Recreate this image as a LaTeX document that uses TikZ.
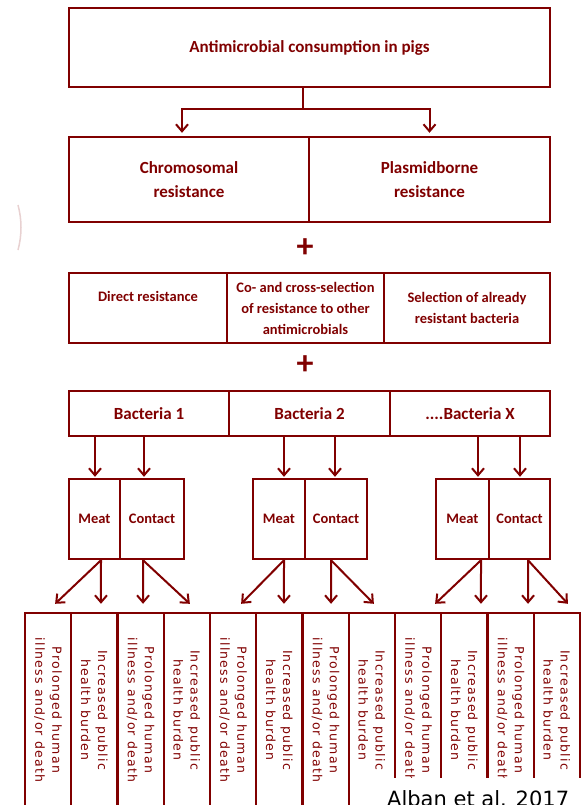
\documentclass[tikz,border=0pt]{standalone}
\usepackage{fontspec}
\setmainfont{Carlito}
\newfontfamily\colfont[LetterSpace=10]{DejaVu Sans}
\newfontfamily\citefont{DejaVu Sans}
\usepackage{xcolor}
\usepackage{tikz}
\usetikzlibrary{positioning,arrows.meta}
\definecolor{pigred}{RGB}{128,0,0}

\begin{document}
\begin{tikzpicture}[x=1pt,y=-1pt,
    box/.style={draw=pigred,line width=2.4pt,text=pigred,align=center,inner sep=1pt,font=\bfseries\fontsize{17}{24.5}\selectfont},
    small/.style={font=\bfseries\fontsize{14.5}{21}\selectfont},
    cell/.style={draw=pigred,line width=2.4pt,minimum width=46.25pt,minimum height=194pt,inner sep=0pt},
    vtxt/.style={rotate=-90,text=pigred,align=center,inner sep=0pt,font=\colfont\fontsize{12.5}{17}\selectfont},
    arr/.style={draw=pigred,line width=2pt,-{Straight Barb[length=7pt,width=12pt]}},
    plus/.style={text=pigred,inner sep=0pt,font=\bfseries\fontsize{34}{34}\selectfont}
  ]
    \useasboundingbox (0,0) rectangle (581,805);
    % top of the chain
    \node[box,minimum width=481pt,minimum height=79pt] (cons) at (309.5,47.5) {Antimicrobial consumption in pigs};
    \node[box,minimum width=240pt,minimum height=85pt] (chrom) at (189,179.5) {Chromosomal\\resistance};
    \node[box,minimum width=241pt,minimum height=85pt] (plas) at (429.5,179.5) {Plasmidborne\\resistance};
    \draw[arr,shorten >=3pt] ([xshift=-6.5pt]cons.south) -- ++(0,21) -| ([xshift=-7pt]chrom.north);
    \draw[arr,shorten >=3pt] ([xshift=-6.5pt]cons.south) -- ++(0,21) -| (plas.north);
    \node[plus] (plus1) at (305,248) {+};
    % selection
    \node[box,small,minimum width=158pt,minimum height=70pt,text depth=23pt] (direct) at (148,308) {Direct resistance};
    \node[box,small,minimum width=157pt,minimum height=70pt] (cosel) at (305.5,308) {Co- and cross-selection\\of resistance to other\\antimicrobials};
    \node[box,small,minimum width=166pt,minimum height=70pt] (selec) at (467,308) {Selection of already\\resistant bacteria};
    \node[plus] (plus2) at (305,365) {+};
    % bacteria
    \node[box,minimum width=160pt,minimum height=45pt] (bac1) at (149,413.5) {Bacteria 1};
    \node[box,minimum width=161pt,minimum height=45pt] (bac2) at (309.5,413.5) {Bacteria 2};
    \node[box,minimum width=160pt,minimum height=45pt] (bacx) at (470,413.5) {....Bacteria X};
    % routes
    \node[box,small,minimum width=51pt,minimum height=80pt] (meat1) at (94.5,519) {Meat};
    \node[box,small,minimum width=64pt,minimum height=80pt] (cont1) at (152,519) {Contact};
    \node[box,small,minimum width=52pt,minimum height=80pt] (meat2) at (279,519) {Meat};
    \node[box,small,minimum width=62pt,minimum height=80pt] (cont2) at (336,519) {Contact};
    \node[box,small,minimum width=53pt,minimum height=80pt] (meat3) at (462.5,519) {Meat};
    \node[box,small,minimum width=61pt,minimum height=80pt] (cont3) at (519.5,519) {Contact};
    \draw[arr,shorten >=1pt] ([xshift=-54pt]bac1.south) -- ([xshift=0.5pt]meat1.north);
    \draw[arr,shorten >=1pt] ([xshift=-5pt]bac1.south) -- ([xshift=-8pt]cont1.north);
    \draw[arr,shorten >=1pt] ([xshift=-25.5pt]bac2.south) -- ([xshift=5pt]meat2.north);
    \draw[arr,shorten >=1pt] ([xshift=25.5pt]bac2.south) -- ([xshift=-1pt]cont2.north);
    \draw[arr,shorten >=1pt] ([xshift=8pt]bacx.south) -- ([xshift=15.5pt]meat3.north);
    \draw[arr,shorten >=1pt] ([xshift=50pt]bacx.south) -- ([xshift=0.5pt]cont3.north);
    % outcomes
    \node[cell] (c1) at (48.125,710) {};   \node[vtxt] (t1) at (c1) {Prolonged human\\illness and/or death};
    \node[cell] (c2) at (94.375,710) {};   \node[vtxt] (t2) at (c2) {Increased public\\health burden};
    \node[cell] (c3) at (140.625,710) {};  \node[vtxt] (t3) at (c3) {Prolonged human\\illness and/or death};
    \node[cell] (c4) at (186.875,710) {};  \node[vtxt] (t4) at (c4) {Increased public\\health burden};
    \node[cell] (c5) at (233.125,710) {};  \node[vtxt] (t5) at (c5) {Prolonged human\\illness and/or death};
    \node[cell] (c6) at (279.375,710) {};  \node[vtxt] (t6) at (c6) {Increased public\\health burden};
    \node[cell] (c7) at (325.625,710) {};  \node[vtxt] (t7) at (c7) {Prolonged human\\illness and/or death};
    \node[cell] (c8) at (371.875,710) {};  \node[vtxt] (t8) at (c8) {Increased public\\health burden};
    \node[cell] (c9) at (418.125,710) {};  \node[vtxt] (t9) at (c9) {Prolonged human\\illness and/or death};
    \node[cell] (c10) at (464.375,710) {}; \node[vtxt] (t10) at (c10) {Increased public\\health burden};
    \node[cell] (c11) at (510.625,710) {}; \node[vtxt] (t11) at (c11) {Prolonged human\\illness and/or death};
    \node[cell] (c12) at (556.875,710) {}; \node[vtxt] (t12) at (c12) {Increased public\\health burden};
    \draw[arr] ([xshift=6.5pt]meat1.south) -- ([xshift=7pt,yshift=8pt]c1.north);
    \draw[arr] ([xshift=6.5pt]meat1.south) -- ([xshift=6.6pt,yshift=8pt]c2.north);
    \draw[arr] ([xshift=-9pt]cont1.south) -- ([xshift=2.4pt,yshift=8pt]c3.north);
    \draw[arr] ([xshift=-9pt]cont1.south) -- ([xshift=3pt,yshift=8pt]c4.north);
    \draw[arr] ([xshift=5pt]meat2.south) -- ([xshift=8pt,yshift=8pt]c5.north);
    \draw[arr] ([xshift=5pt]meat2.south) -- ([xshift=4.6pt,yshift=8pt]c6.north);
    \draw[arr] ([xshift=-5pt]cont2.south) -- ([xshift=5.4pt,yshift=8pt]c7.north);
    \draw[arr] ([xshift=-5pt]cont2.south) -- ([xshift=2pt,yshift=8pt]c8.north);
    \draw[arr] ([xshift=18.5pt]meat3.south) -- ([xshift=17pt,yshift=8pt]c9.north);
    \draw[arr] ([xshift=18.5pt]meat3.south) -- ([xshift=16.6pt,yshift=8pt]c10.north);
    \draw[arr] ([xshift=8.5pt]cont3.south) -- ([xshift=17.4pt,yshift=8pt]c11.north);
    \draw[arr] ([xshift=8.5pt]cont3.south) -- ([xshift=11pt,yshift=8pt]c12.north);
    % faint mark on the left edge
    \draw[pigred!30,line width=1.5pt,opacity=0.6] (18,205) .. controls (22,220) and (22,235) .. (18,250);
    % source
    \fill[white] (352,778) rectangle (581,805);
    \node[anchor=base west,inner sep=0pt,font=\citefont\fontsize{21}{21}\selectfont] (cite) at (387,806) {Alban et al. 2017};
\end{tikzpicture}
\end{document}
